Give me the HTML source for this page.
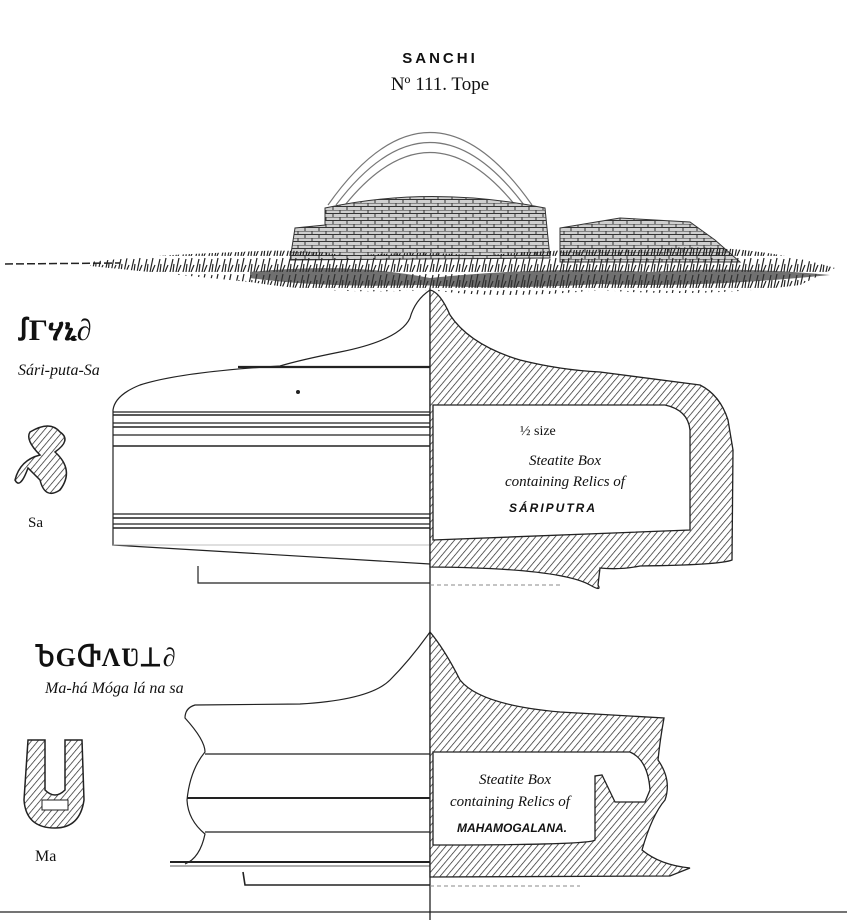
<!DOCTYPE html>
<html><head><meta charset="utf-8"><style>
html,body{margin:0;padding:0;background:#fff;}
svg{display:block;}
text{font-family:"Liberation Serif",serif;fill:#111;}
</style></head><body>
<svg width="847" height="920" viewBox="0 0 847 920" xmlns="http://www.w3.org/2000/svg">
<defs>
<pattern id="h" width="5" height="5" patternUnits="userSpaceOnUse" patternTransform="rotate(40)">
<rect width="5" height="5" fill="#fff"/><line x1="0" y1="0" x2="0" y2="5" stroke="#222" stroke-width="1.4"/>
</pattern>
<pattern id="br" width="14" height="7" patternUnits="userSpaceOnUse">
<rect width="14" height="7" fill="#cfcfcf"/><path d="M0 0H14M0 3.5H14M4 0V3.5M11 3.5V7" stroke="#333" stroke-width="1"/>
</pattern>
<pattern id="gr" width="13" height="16" patternUnits="userSpaceOnUse">
<path d="M1 16 L4 3 M4 16 L5 8 M7 16 L10 2 M9 16 L12 9" stroke="#222" stroke-width="1.2"/>
</pattern>
</defs>
<rect width="847" height="920" fill="#fff"/>
<text x="440" y="63" text-anchor="middle" font-weight="bold" font-size="15" letter-spacing="3" style="font-family:'Liberation Sans',sans-serif">SANCHI</text>
<text x="440" y="90" text-anchor="middle" font-size="19">Nº 111. Tope</text>

<!-- stupa -->
<g fill="none" stroke="#777" stroke-width="1.2">
<path d="M328 205 Q430 60 532 205"/><path d="M336 205 Q430 80 524 205"/><path d="M345 205 Q430 100 515 205"/>
</g>
<path d="M325 208 Q430 185 545 208 L550 258 L290 260 L295 228 L325 225 Z" fill="url(#br)" stroke="#333"/>
<path d="M560 228 L620 218 L690 222 L715 240 L740 262 L560 262 Z" fill="url(#br)" stroke="#333"/>
<!-- grass -->
<path d="M90 262 Q150 255 240 252 Q300 248 350 256 Q420 250 480 256 Q560 248 640 250 Q740 240 835 268 L800 285 Q700 298 600 290 Q500 300 430 290 Q330 295 250 282 Q150 272 90 266 Z" fill="url(#gr)"/>
<path d="M250 272 Q350 262 430 278 Q550 266 650 272 Q740 266 830 275 Q700 288 600 284 Q500 290 420 285 Q320 288 250 278 Z" fill="#333" opacity="0.7"/>
<line x1="5" y1="264" x2="120" y2="263" stroke="#222" stroke-width="1.5" stroke-dasharray="8 3"/>

<!-- centre line -->
<line x1="430" y1="288" x2="430" y2="920" stroke="#222" stroke-width="1.3"/>

<!-- upper box left -->
<g fill="none" stroke="#222" stroke-width="1.2">
<path d="M430 290 Q415 300 410 318 Q400 340 340 352 Q300 360 280 366 Q180 372 140 385 Q115 395 113 410 L113 545 L430 564"/>
<line x1="238" y1="367" x2="430" y2="367" stroke-width="2.2"/>
<line x1="113" y1="412" x2="430" y2="412"/><line x1="113" y1="415" x2="430" y2="415" stroke-width="1.6"/>
<line x1="113" y1="423" x2="430" y2="423"/><line x1="113" y1="427" x2="430" y2="427" stroke-width="1.6"/>
<line x1="113" y1="435" x2="430" y2="435"/><line x1="113" y1="446" x2="430" y2="446" stroke-width="1.6"/>
<line x1="113" y1="514" x2="430" y2="514"/><line x1="113" y1="518" x2="430" y2="518" stroke-width="1.6"/>
<line x1="113" y1="524" x2="430" y2="524"/><line x1="113" y1="528" x2="430" y2="528" stroke-width="1.6"/>
<line x1="113" y1="545" x2="430" y2="545" stroke-width="0.8" stroke="#aaa"/>
<path d="M198 566 L198 583 L430 583"/>
</g>
<circle cx="298" cy="392" r="2" fill="#222"/>
<!-- upper box right -->
<path d="M430 290 Q440 292 450 315 Q470 345 520 360 Q560 370 600 372 L700 385 Q720 395 728 420 L733 450 L732 560 Q720 565 640 566 Q620 570 600 568 L598 585 Q602 592 590 585 Q560 568 430 567 Z" fill="url(#h)" stroke="#222" stroke-width="1.3"/>
<path d="M433 405 L665 405 Q688 410 690 430 L690 530 L433 540 Z" fill="#fff" stroke="#222" stroke-width="1.3"/>
<text x="520" y="435" font-size="14">½ size</text>
<text x="565" y="465" text-anchor="middle" font-size="15" font-style="italic">Steatite Box</text>
<text x="565" y="486" text-anchor="middle" font-size="15" font-style="italic">containing Relics of</text>
<text x="553" y="512" text-anchor="middle" font-size="12" font-weight="bold" font-style="italic" letter-spacing="2" style="font-family:'Liberation Sans',sans-serif">SÁRIPUTRA</text>
<line x1="430" y1="585" x2="560" y2="585" stroke="#888" stroke-dasharray="4 3"/>

<!-- lower box left -->
<g fill="none" stroke="#222" stroke-width="1.2">
<path d="M430 632 Q410 660 390 680 Q370 700 300 704 L195 705 Q185 708 185 718 Q205 740 205 752 Q190 770 187 800 Q188 820 205 834 Q200 858 185 864"/>
<line x1="205" y1="754" x2="430" y2="754"/><line x1="187" y1="798" x2="430" y2="798" stroke-width="2"/>
<line x1="205" y1="832" x2="430" y2="832"/><line x1="170" y1="862" x2="430" y2="862" stroke-width="2"/>
<line x1="170" y1="866" x2="430" y2="866" stroke-width="0.8"/>
<path d="M243 872 L245 885 L430 885" stroke-width="1.6"/>
</g>
<!-- lower box right -->
<path d="M430 632 Q445 650 460 680 Q480 705 560 712 L664 718 Q660 740 658 760 Q672 780 665 800 Q652 815 642 850 Q660 865 690 868 L670 876 L430 877 Z" fill="url(#h)" stroke="#222" stroke-width="1.3"/>
<path d="M433 752 L630 752 Q648 760 650 790 L645 802 L615 802 L602 775 L595 776 L595 840 Q590 845 433 845 Z" fill="#fff" stroke="#222" stroke-width="1.3"/>
<line x1="430" y1="886" x2="580" y2="886" stroke="#888" stroke-dasharray="4 3"/>
<text x="515" y="784" text-anchor="middle" font-size="15" font-style="italic">Steatite Box</text>
<text x="510" y="806" text-anchor="middle" font-size="15" font-style="italic">containing Relics of</text>
<text x="512" y="832" text-anchor="middle" font-size="12" font-weight="bold" font-style="italic" style="font-family:'Liberation Sans',sans-serif">MAHAMOGALANA.</text>

<!-- left glyph labels -->
<text x="18" y="340" font-size="30" font-weight="bold">ꭍΓሃኒ∂</text>
<text x="18" y="375" font-size="16" font-style="italic">Sári-puta-Sa</text>
<path d="M30 432 Q50 420 60 432 Q72 440 55 452 Q75 470 60 490 Q45 500 40 480 L28 468 Q20 490 15 480 Q20 460 40 455 Q25 440 30 432 Z" fill="url(#h)" stroke="#222" stroke-width="1.5"/>
<text x="28" y="527" font-size="15">Sa</text>
<text x="35" y="666" font-size="26" font-weight="bold" letter-spacing="1">ႦGႧΛƲ⊥∂</text>
<text x="45" y="693" font-size="16" font-style="italic">Ma-há Móga lá na sa</text>
<path d="M28 740 L45 740 L45 790 Q55 800 65 790 L65 740 L82 740 L84 800 Q80 828 55 828 Q26 828 24 800 Z" fill="url(#h)" stroke="#222" stroke-width="1.5"/>
<rect x="42" y="800" width="26" height="10" fill="#fff" stroke="#222"/>
<text x="35" y="861" font-size="16">Ma</text>

<line x1="0" y1="912" x2="847" y2="912" stroke="#222" stroke-width="1.3"/>
</svg>
</body></html>
